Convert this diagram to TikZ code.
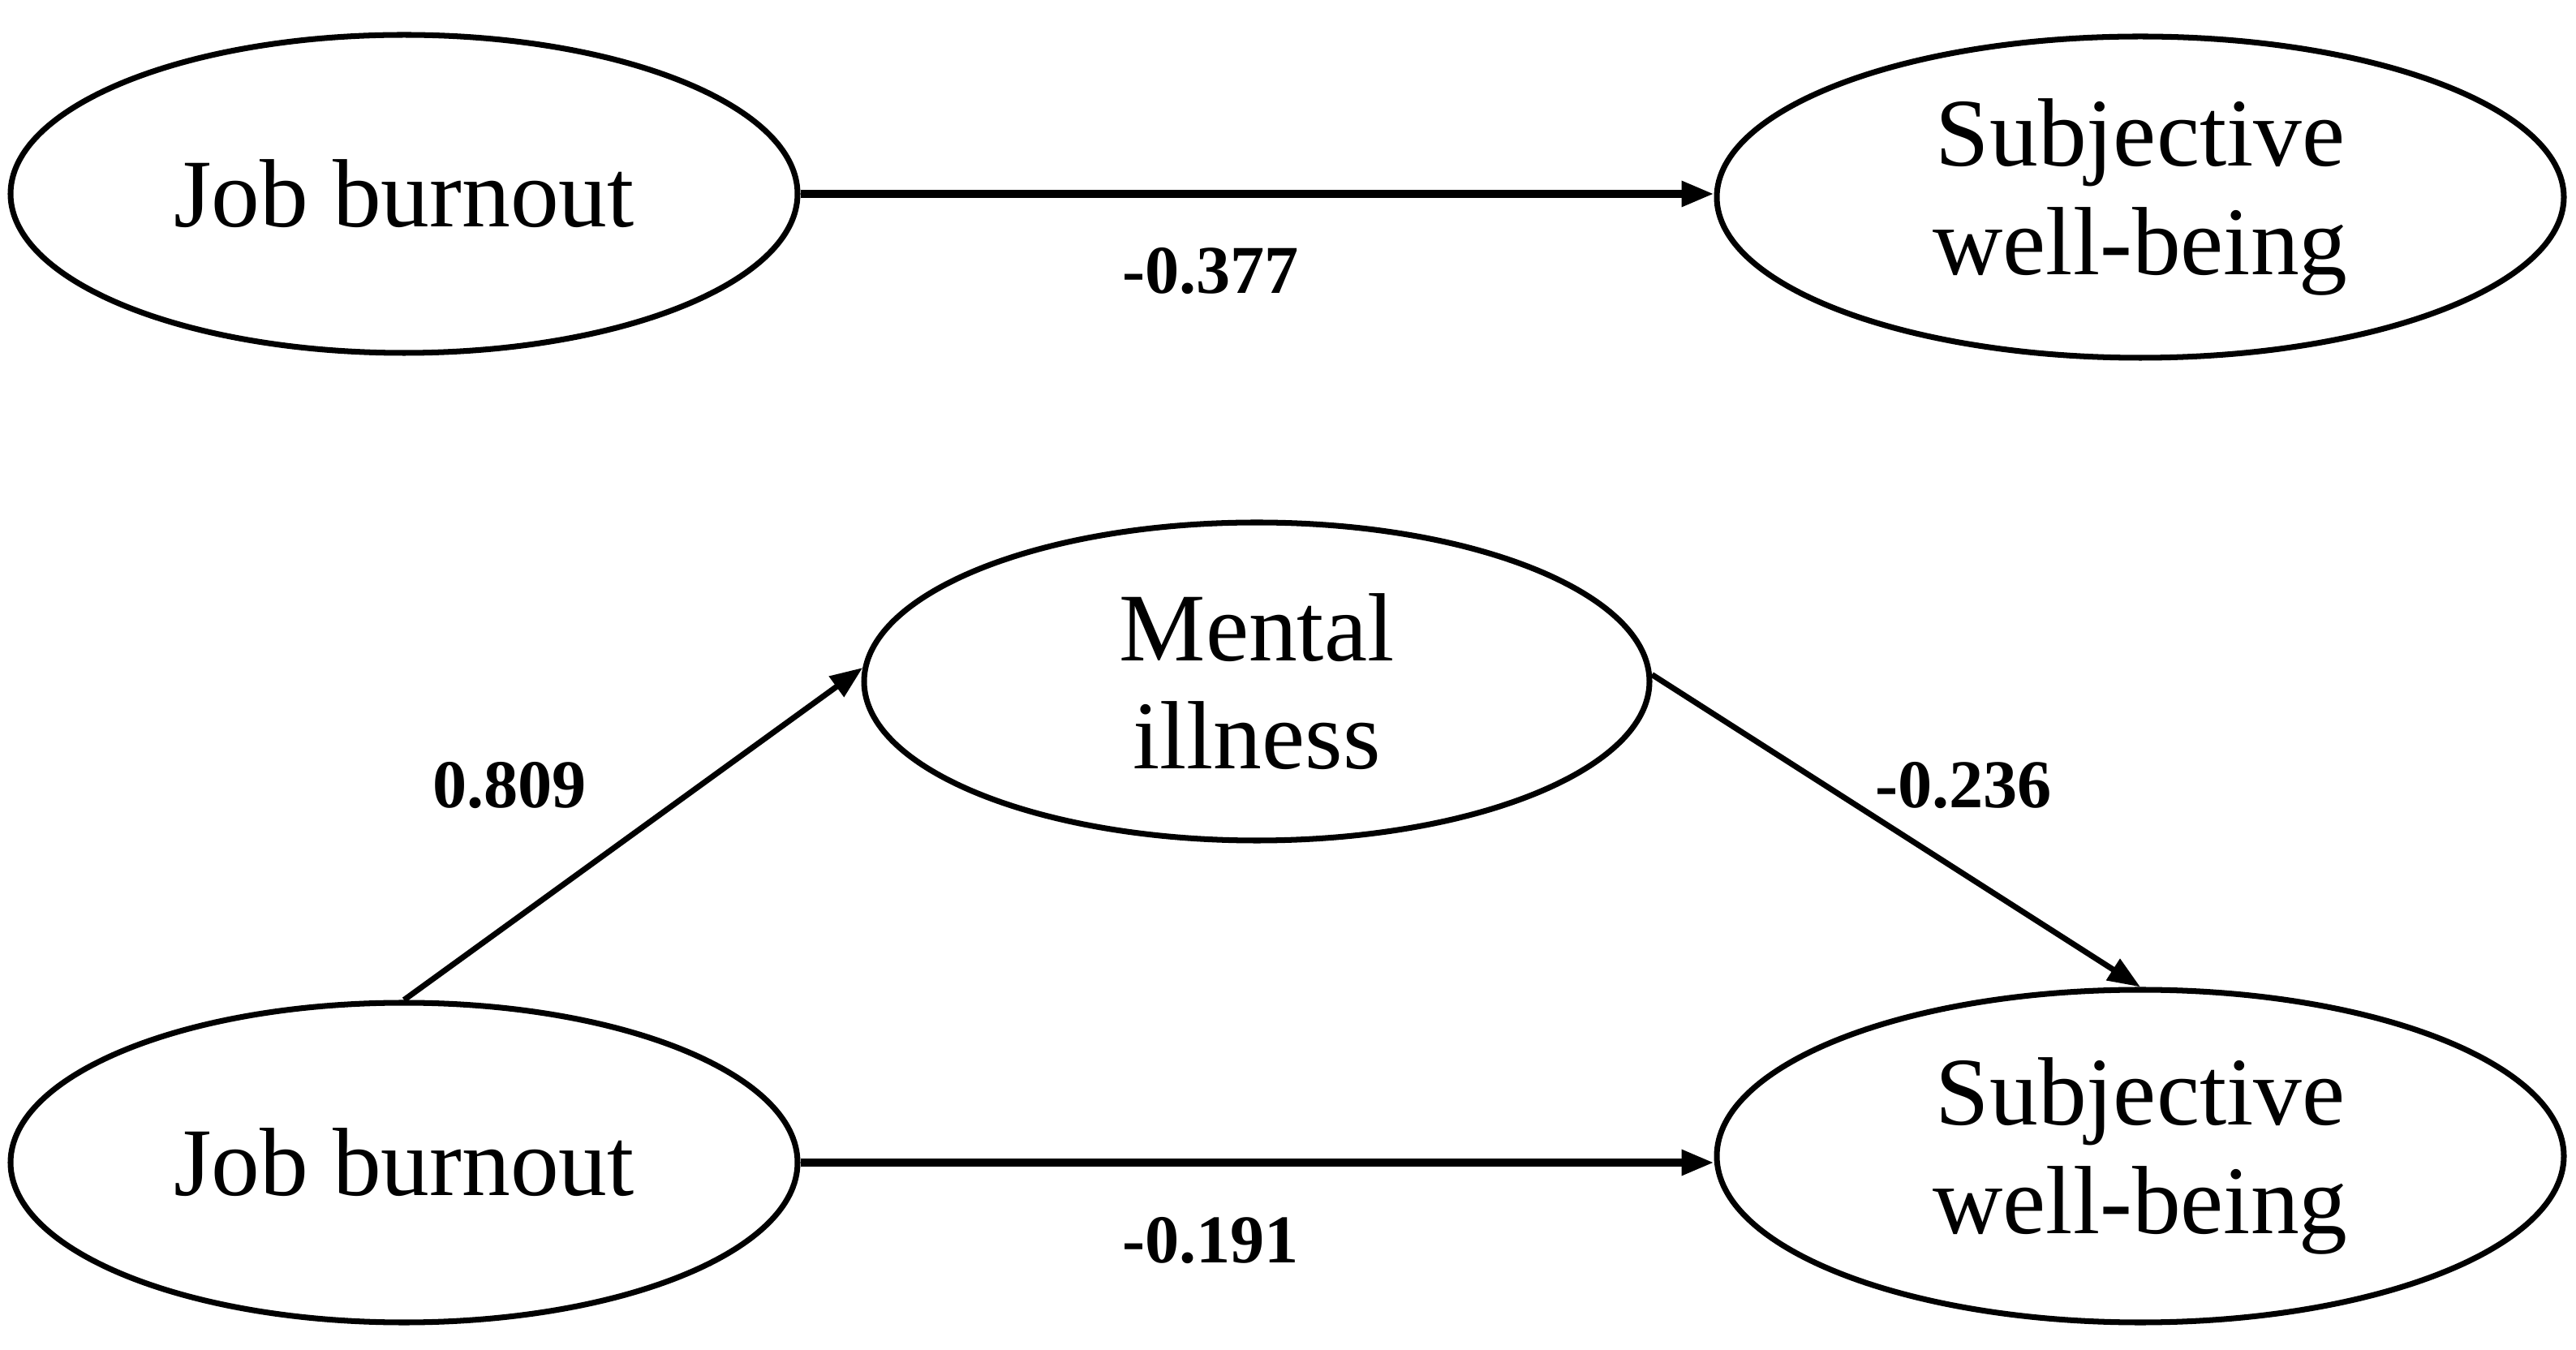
\documentclass[tikz,border=0pt]{standalone}
\usepackage{fontspec}
\setmainfont{Liberation Serif}
\usetikzlibrary{shapes.geometric,arrows.meta}
\begin{document}
\begin{tikzpicture}[x=1cm,y=-1cm,
  latent/.style={draw,line width=2pt,ellipse,inner sep=0pt,align=center,
    font=\fontsize{34}{38}\selectfont},
  coef/.style={font=\fontsize{24}{28}\selectfont\bfseries,inner sep=0pt},
  path/.style={line width=2pt,-{Triangle[length=0.40cm,width=0.30cm]}}]
\useasboundingbox (0,0) rectangle (31.75,16.64);
\node[latent,minimum width=9.70cm,minimum height=3.92cm] (jb1) at (4.98,2.39) {Job burnout};
\node[latent,minimum width=10.44cm,minimum height=3.96cm] (swb1) at (26.38,2.43) {Subjective\\well-being};
\node[latent,minimum width=9.68cm,minimum height=3.92cm] (mi) at (15.49,8.40) {Mental\\illness};
\node[latent,minimum width=9.70cm,minimum height=3.94cm] (jb2) at (4.98,14.33) {Job burnout};
\node[latent,minimum width=10.44cm,minimum height=4.10cm] (swb2) at (26.38,14.25) {Subjective\\well-being};
\draw[path,line width=2.6pt] (jb1.east) -- (jb1.east -| swb1.west);
\draw[path] (jb2.north) -- (mi.178);
\draw[path] (mi.1) -- (swb2.north);
\draw[path,line width=2.6pt] (jb2.east) -- (jb2.east -| swb2.west);
\node[coef] (c1) at (14.92,3.34) {-0.377};
\node[coef] (c2) at (6.28,9.68) {0.809};
\node[coef] (c3) at (24.20,9.68) {-0.236};
\node[coef] (c4) at (14.92,15.29) {-0.191};
\end{tikzpicture}
\end{document}
